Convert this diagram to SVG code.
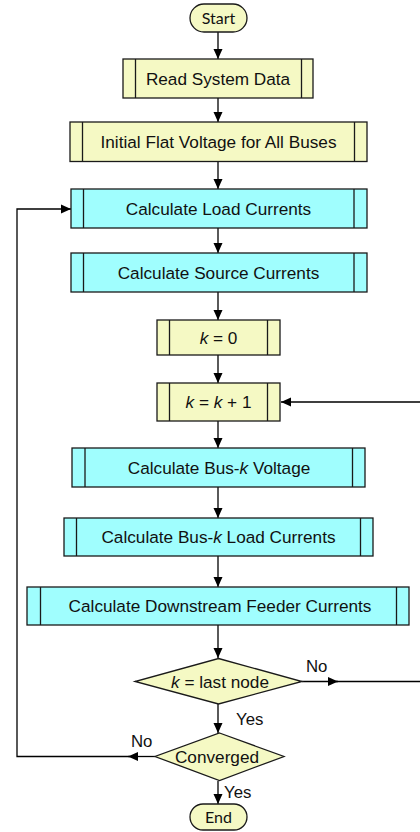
<svg xmlns="http://www.w3.org/2000/svg" width="420" height="832" viewBox="0 0 420 832">
  <style>
    .yel { fill: #f5f9c4; stroke: #1a1a1a; stroke-width: 1.3; }
    .cyan { fill: #a0fefe; stroke: #1a1a1a; stroke-width: 1.3; }
    .bar { stroke: #1a1a1a; stroke-width: 1.3; fill: none; }
    .lbl { font-family: "Liberation Sans", Arial, sans-serif; font-size: 17.2px; fill: #111; text-anchor: middle; }
    .term { font-family: Lato, "Noto Sans", sans-serif; font-size: 16px; fill: #111; text-anchor: middle; }
    .note { font-family: "Liberation Sans", Arial, sans-serif; font-size: 16.8px; fill: #111; }
    .wire { stroke: #000; stroke-width: 1.3; fill: none; }
    .arrow { marker-end: url(#head); }
  </style>
  <defs>
    <marker id="head" markerUnits="userSpaceOnUse" markerWidth="10" markerHeight="10" refX="10" refY="5" orient="auto">
      <path d="M0,0.5 L10,5 L0,9.5 z" fill="#000"/>
    </marker>
  </defs>

  <!-- connectors -->
  <g id="connectors">
    <line class="wire arrow" x1="218" y1="32" x2="218" y2="59"/>
    <line class="wire arrow" x1="218" y1="98" x2="218" y2="122"/>
    <line class="wire arrow" x1="218" y1="161" x2="218" y2="189"/>
    <line class="wire arrow" x1="218" y1="228" x2="218" y2="253"/>
    <line class="wire arrow" x1="218" y1="292" x2="218" y2="320"/>
    <line class="wire arrow" x1="218" y1="355" x2="218" y2="383"/>
    <line class="wire arrow" x1="218" y1="421" x2="218" y2="448"/>
    <line class="wire arrow" x1="218" y1="487" x2="218" y2="518"/>
    <line class="wire arrow" x1="218" y1="556" x2="218" y2="587"/>
    <line class="wire arrow" x1="218" y1="625" x2="218" y2="658"/>
    <line class="wire arrow" x1="218" y1="704" x2="218" y2="733"/>
    <line class="wire arrow" x1="218" y1="781" x2="218" y2="804"/>
    <!-- k = last node : No, back to k = k + 1 -->
    <line class="wire arrow" x1="302" y1="681.5" x2="338" y2="681.5"/>
    <polyline class="wire arrow" points="336,681.5 423,681.5 423,402 281,402"/>
    <!-- Converged : No, back to load currents -->
    <line class="wire arrow" x1="155" y1="756.5" x2="128" y2="756.5"/>
    <polyline class="wire arrow" points="130,756.5 17,756.5 17,209 71,209"/>
    <text class="note" x="306" y="672">No</text>
    <text class="note" x="236" y="725">Yes</text>
    <text class="note" x="131" y="747">No</text>
    <text class="note" x="224" y="798">Yes</text>
  </g>

  <g id="start">
    <rect class="yel" x="190" y="4" width="57" height="28" rx="14" ry="14"/>
    <text class="term" x="218.5" y="23.5">Start</text>
  </g>

  <g id="read-data">
    <rect class="yel" x="123" y="59" width="190" height="39"/>
    <path class="bar" d="M135.5,59 V98 M301.5,59 V98"/>
    <text class="lbl" x="218" y="84.5">Read System Data</text>
  </g>

  <g id="flat-voltage">
    <rect class="yel" x="70" y="122" width="297" height="39.5"/>
    <path class="bar" d="M82.5,122 V161.5 M354.5,122 V161.5"/>
    <text class="lbl" x="218.5" y="148">Initial Flat Voltage for All Buses</text>
  </g>

  <g id="load-currents">
    <rect class="cyan" x="71" y="189" width="296" height="39"/>
    <path class="bar" d="M83.5,189 V228 M354,189 V228"/>
    <text class="lbl" x="218.5" y="214.5">Calculate Load Currents</text>
  </g>

  <g id="source-currents">
    <rect class="cyan" x="71" y="253" width="296" height="39"/>
    <path class="bar" d="M83.5,253 V292 M354,253 V292"/>
    <text class="lbl" x="218.5" y="278.5">Calculate Source Currents</text>
  </g>

  <g id="k-init">
    <rect class="yel" x="157" y="320" width="123" height="35"/>
    <path class="bar" d="M169.5,320 V355 M267.5,320 V355"/>
    <text class="lbl" x="218.5" y="343.5"><tspan font-style="italic">k</tspan> = 0</text>
  </g>

  <g id="k-next">
    <rect class="yel" x="157" y="383" width="123" height="38"/>
    <path class="bar" d="M169.5,383 V421 M267.5,383 V421"/>
    <text class="lbl" x="218.5" y="408"><tspan font-style="italic">k</tspan> = <tspan font-style="italic">k</tspan> + 1</text>
  </g>

  <g id="bus-voltage">
    <rect class="cyan" x="72" y="448" width="293" height="39"/>
    <path class="bar" d="M85,448 V487 M352.5,448 V487"/>
    <text class="lbl" x="219" y="473.5">Calculate Bus-<tspan font-style="italic">k</tspan> Voltage</text>
  </g>

  <g id="bus-load">
    <rect class="cyan" x="64" y="518" width="309" height="38"/>
    <path class="bar" d="M76.5,518 V556 M360.5,518 V556"/>
    <text class="lbl" x="218.5" y="543">Calculate Bus-<tspan font-style="italic">k</tspan> Load Currents</text>
  </g>

  <g id="feeder-currents">
    <rect class="cyan" x="27" y="587" width="382" height="38"/>
    <path class="bar" d="M40.5,587 V625 M396.5,587 V625"/>
    <text class="lbl" x="220" y="612">Calculate Downstream Feeder Currents</text>
  </g>

  <g id="last-node">
    <polygon class="yel" points="218.5,658.5 302,681.5 218.5,704 135,681.5"/>
    <text class="lbl" x="220" y="687.5"><tspan font-style="italic">k</tspan> = last node</text>
  </g>

  <g id="converged">
    <polygon class="yel" points="219.5,733 284,756.5 219.5,780.5 155,756.5"/>
    <text class="lbl" x="217" y="762.5">Converged</text>
  </g>

  <g id="end">
    <rect class="yel" x="190" y="804" width="57" height="26" rx="13" ry="13"/>
    <text class="term" x="218.5" y="822.5">End</text>
  </g>
</svg>
